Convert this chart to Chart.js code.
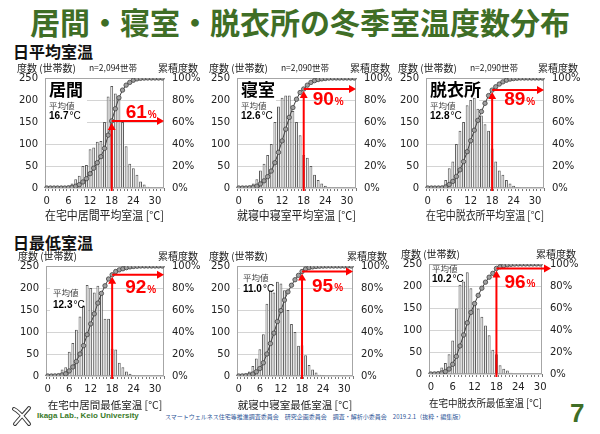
<!DOCTYPE html>
<html lang="ja">
<head>
<meta charset="utf-8">
<script src="https://cdn.jsdelivr.net/npm/chart.js@4.4.1/dist/chart.umd.min.js"></script>
<style>
  html, body { margin: 0; padding: 0; background: #fff; }
  body { width: 600px; height: 434px; position: relative; overflow: hidden; font-family: 'Noto Sans CJK JP', sans-serif; }
  .abs { position: absolute; white-space: nowrap; }
  #title { left: 0; width: 600px; top: 3px; text-align: center; font-size: 30px; font-weight: bold; color: #3f6e26; line-height: 36px; }
  .sec { left: 13px; font-size: 16px; font-weight: bold; color: #111; line-height: 20px; }
  #lab { left: 37px; top: 411px; font: bold 8px 'Liberation Sans', sans-serif; color: #3a7a2a; line-height: 10px; }
  #org { left: 165px; top: 413px; font-size: 6px; color: #2e5597; line-height: 8px; }
  #page { left: 570px; top: 398px; font: bold 26px 'Liberation Sans', sans-serif; color: #3f6e26; line-height: 30px; }
  canvas { position: absolute; }
</style>
</head>
<body>
<div id="title" class="abs">居間・寝室・脱衣所の冬季室温度数分布</div>
<div class="abs sec" style="top:41px">日平均室温</div>
<div class="abs sec" style="top:232px">日最低室温</div>
<svg class="abs" style="left:11px;top:405px" width="22" height="22" viewBox="0 0 22 22">
  <path d="M3 4 C8 6, 14 14, 18 19 M18 3 C14 8, 8 14, 4 19" stroke="#333" stroke-width="4" fill="none" stroke-linecap="round"/>
  <path d="M3 4 C8 6, 14 14, 18 19 M18 3 C14 8, 8 14, 4 19" stroke="#fff" stroke-width="2" fill="none" stroke-linecap="round"/>
</svg>
<div class="abs" id="lab">Ikaga Lab., Keio University</div>
<div class="abs" id="org">スマートウェルネス住宅等推進調査委員会　研究企画委員会　調査・解析小委員会　2019.2.1（抜粋・編集版）</div>
<div class="abs" id="page">7</div>
<script>
// 階級 (°C)
const temps = ['0','1','2','3','4','5','6','7','8','9','10','11','12','13','14','15','16',
               '17','18','19','20','21','22','23','24','25','26','27','28','29','30','31','32'];
const tickTemps = ['0','6','12','18','24','30'];

// 日平均室温
const countLivingAvg = [0,0,0,0,0,0,3,10,20,28,50,52,88,92,105,107,150,208,232,215,205,150,95,55,45,30,15,8,3,1,0,0,0];
const cumLivingAvg   = [0,0,0,0,0,0,0.2,0.7,1.6,3,5.5,8.5,13,18,23,28.5,36,48,61,72,82,89,93.5,96,98,99.2,99.7,99.9,100,100,100,100,100];
const countBedAvg    = [0,0,0,3,10,20,40,55,75,100,150,185,205,210,210,175,150,120,75,69,50,30,18,10,5,2,0,0,0,0,0,0,0];
const cumBedAvg      = [0,0,0,0.2,0.7,1.7,3.7,6.5,10.3,15.4,23,32.4,42.8,53.5,64.2,73.1,80.7,86.8,90,93.5,96,97.6,98.6,99.2,99.6,99.9,100,100,100,100,100,100,100];
const countBathAvg   = [0,0,0,0,2,18,45,60,100,130,150,188,200,205,180,165,145,130,90,60,40,30,18,10,5,2,0,0,0,0,0,0,0];
const cumBathAvg     = [0,0,0,0,0.1,1,3.2,6,10.5,16.5,24,33,43,52.5,61.5,69.5,77,84,89,92,94.5,96.5,98,99,99.5,99.8,100,100,100,100,100,100,100];

// 日最低室温
const countLivingMin = [0,0,1,3,15,20,55,75,105,135,160,207,200,190,205,185,130,130,62,60,30,20,10,5,2,1,0,0,0,0,0,0,0];
const cumLivingMin   = [0,0,0.1,0.3,1,2,4.6,8.2,13.2,20,27.6,37.6,47.4,56.5,66.3,75.1,82,88.2,92,95,96.5,97.5,98.5,99.2,99.6,99.8,100,100,100,100,100,100,100];
const countBedMin    = [0,2,5,10,23,40,61,95,164,195,190,214,210,195,150,118,100,69,70,47,25,15,8,3,2,1,0,0,0,0,0,0,0];
const cumBedMin      = [0,0.1,0.3,0.8,1.8,3.8,6.8,12,20,29.5,39,49.5,59.5,69,76.5,82.5,87.5,91.5,95,97.3,98.5,99.2,99.6,99.8,99.9,100,100,100,100,100,100,100,100];
const countBathMin   = [0,2,5,15,25,45,76,149,203,210,231,195,165,149,130,110,88,55,45,20,12,8,3,1,0,0,0,0,0,0,0];
const cumBathMin     = [0,0.1,0.3,1,2.2,4.5,8.8,16,25.5,35.5,46.5,56,64,71.5,78,83.5,88,91.5,96,97.5,98.5,99.2,99.7,99.9,100,100,100,100,100,100,100];

// 18°C 以下の累積割合, 平均値, 世帯数, ラベル
const pctAt18    = [61, 90, 89, 92, 95, 96];
const meanTemps  = ['16.7', '12.6', '12.8', '12.3', '11.0', '10.2'];
const households = ['n=2,094世帯', 'n=2,090世帯', 'n=2,090世帯', '', '', ''];
const roomNames  = ['居間', '寝室', '脱衣所', '', '', ''];
const xTitles    = ['在宅中居間平均室温 [°C]', '就寝中寝室平均室温 [°C]', '在宅中脱衣所平均室温 [°C]',
                    '在宅中居間最低室温 [°C]', '就寝中寝室最低室温 [°C]', '在宅中脱衣所最低室温 [°C]'];

const counts = [countLivingAvg, countBedAvg, countBathAvg, countLivingMin, countBedMin, countBathMin];
const cums   = [cumLivingAvg, cumBedAvg, cumBathAvg, cumLivingMin, cumBedMin, cumBathMin];

// 各グラフの配置 (plot = 左, 上, 右, 下)
const panels = [
  { plot: [45, 78, 164, 187],  box: [1, 1, 41, 45],  nameY: 11.5, avgY: 27.5, meanY: 38.5, txt: [14, -8], tip: 0, tSize: 12 },
  { plot: [237, 78, 356, 187], box: [1, 1, 38, 45],  nameY: 11.5, avgY: 27.5, meanY: 38.5, txt: [9, 11],  tip: 0, tSize: 12 },
  { plot: [426, 78, 544, 187], box: [1, 1, 52, 45],  nameY: 11.5, avgY: 27.5, meanY: 38.5, txt: [12, 10], tip: 0, tSize: 12 },
  { plot: [46, 266, 164, 375], box: [4, 22, 38, 24], nameY: 0,    avgY: 27,   meanY: 39,   txt: [13, 13], tip: 0, tSize: 10.5 },
  { plot: [237, 266, 353, 375],box: [3, 6, 40, 23],  nameY: 0,    avgY: 12,   meanY: 23,   txt: [10, 15], tip: 0, tSize: 10.5 },
  { plot: [429, 264, 542, 373],box: [0, 0, 35, 21],  nameY: 0,    avgY: 4.5,  meanY: 15,   txt: [8, 14],  tip: 9, tSize: 10.5 }
];

Chart.defaults.font.family = "'DejaVu Sans', 'Noto Sans CJK JP', sans-serif";
Chart.defaults.color = '#222';

function head(ctx, x, y, dir) {
  ctx.beginPath();
  if (dir === 'up') { ctx.moveTo(x, y); ctx.lineTo(x - 4, y + 7); ctx.lineTo(x + 4, y + 7); }
  else { ctx.moveTo(x, y); ctx.lineTo(x - 7, y - 4); ctx.lineTo(x - 7, y + 4); }
  ctx.closePath();
  ctx.fill();
}

const deco = {
  id: 'deco',
  beforeDatasetsDraw(chart, args, o) {
    const { ctx, chartArea: a } = chart;
    ctx.save();
    ctx.fillStyle = '#fff';
    ctx.fillRect(a.left + o.box[0], a.top + o.box[1], o.box[2], o.box[3]);
    ctx.strokeStyle = '#a6a6a6';
    ctx.lineWidth = 1;
    ctx.strokeRect(Math.round(a.left) + 0.5, Math.round(a.top) + 0.5, Math.round(a.width) - 1, Math.round(a.height) - 1);
    ctx.restore();
  },
  afterDatasetsDraw(chart, args, o) {
    const { ctx, chartArea: a, scales } = chart;
    ctx.save();
    ctx.textBaseline = 'middle';
    ctx.fillStyle = '#222';
    ctx.font = "10px 'Noto Sans CJK JP'";
    ctx.textAlign = 'left';
    ctx.fillText('度数 (世帯数)', a.left - 28, a.top - 10);
    ctx.textAlign = 'right';
    ctx.fillText('累積度数', a.right + 34, a.top - 10);
    if (o.n) {
      ctx.textAlign = 'center';
      ctx.font = "8.5px 'Noto Sans CJK JP'";
      ctx.fillText(o.n, a.left + 68, a.top - 10);
    }

    // 部屋名と平均値
    ctx.textAlign = 'left';
    if (o.name) {
      ctx.font = "bold 17px 'Noto Sans CJK JP'";
      ctx.fillStyle = '#000';
      ctx.fillText(o.name, a.left + 4, a.top + o.nameY);
    }
    const lx = a.left + o.box[0] + 3;
    ctx.font = "8.5px 'Noto Sans CJK JP'";
    ctx.fillStyle = '#444';
    ctx.fillText('平均値', lx, a.top + o.avgY);
    ctx.font = "bold 10px 'Liberation Sans'";
    ctx.fillStyle = '#000';
    ctx.fillText(o.mean, lx, a.top + o.meanY);
    const w = ctx.measureText(o.mean).width;
    ctx.font = "10px 'Liberation Sans'";
    ctx.fillText('°C', lx + w + 1, a.top + o.meanY);

    // 18°C の赤矢印
    const x = scales.x.getPixelForValue(18);
    const y = scales.y1.getPixelForValue(o.pct);
    ctx.strokeStyle = '#ff0000';
    ctx.fillStyle = '#ff0000';
    ctx.lineWidth = 2;
    ctx.beginPath();
    ctx.moveTo(x, a.bottom + 3);
    ctx.lineTo(x, y + 8);
    ctx.moveTo(x, y);
    ctx.lineTo(a.right + o.tip - 6, y);
    ctx.stroke();
    head(ctx, x, y + 2, 'up');
    head(ctx, a.right + o.tip, y, 'right');

    ctx.font = "bold 19px 'Liberation Sans'";
    const tx = x + o.txt[0], ty = y + o.txt[1];
    ctx.fillText(String(o.pct), tx, ty);
    const pw = ctx.measureText(String(o.pct)).width;
    ctx.font = "bold 10px 'Liberation Sans'";
    ctx.fillText('%', tx + pw + 1, ty + 2);
    ctx.restore();
  }
};

panels.forEach((p, i) => {
  const [L, T, R, B] = p.plot;
  const W = R - L + 45 + 38, H = B - T + 18 + 36;
  const cv = document.createElement('canvas');
  cv.width = W; cv.height = H;
  cv.style.left = (L - 45) + 'px';
  cv.style.top = (T - 18) + 'px';
  cv.style.width = W + 'px';
  cv.style.height = H + 'px';
  document.body.appendChild(cv);

  const labels = temps.slice(0, counts[i].length);
  new Chart(cv.getContext('2d'), {
    data: {
      labels: labels,
      datasets: [
        {
          type: 'line',
          data: cums[i],
          yAxisID: 'y1',
          order: 0,
          borderColor: '#404040',
          borderWidth: 1,
          pointRadius: 2.2,
          pointBackgroundColor: '#a0a0a0',
          pointBorderColor: '#404040',
          pointBorderWidth: 0.8,
          tension: 0
        },
        {
          type: 'bar',
          data: counts[i],
          yAxisID: 'y',
          order: 1,
          backgroundColor: '#e6e6e6',
          borderColor: '#5a5a5a',
          borderWidth: 1,
          barPercentage: 0.8,
          categoryPercentage: 1
        }
      ]
    },
    options: {
      responsive: false,
      animation: false,
      layout: { padding: { top: 18, left: 0, right: 0, bottom: 0 } },
      plugins: {
        legend: { display: false },
        tooltip: { enabled: false },
        deco: {
          box: p.box, nameY: p.nameY, avgY: p.avgY, meanY: p.meanY, txt: p.txt, tip: p.tip,
          pct: pctAt18[i], mean: meanTemps[i], n: households[i], name: roomNames[i]
        }
      },
      scales: {
        x: {
          type: 'category',
          offset: true,
          grid: { display: true, drawOnChartArea: false, tickLength: 3, color: '#777' },
          border: { display: false },
          ticks: {
            autoSkip: false, maxRotation: 0, padding: 4, color: '#222',
            font: { size: 10 },
            callback: (v, idx) => tickTemps.includes(labels[idx]) ? labels[idx] : ''
          },
          title: {
            display: true, text: xTitles[i], color: '#222', padding: 0,
            font: { size: p.tSize, family: "'Noto Sans CJK JP', sans-serif" }
          },
          afterFit: s => { s.height = 35; }
        },
        y: {
          position: 'left', min: 0, max: 250,
          grid: { color: '#d4d4d4', drawTicks: false },
          border: { display: false },
          ticks: { stepSize: 50, padding: 7, font: { size: 10 }, color: '#222' },
          afterFit: s => { s.width = 45; }
        },
        y1: {
          position: 'right', min: 0, max: 100,
          grid: { drawOnChartArea: false, drawTicks: false },
          border: { display: false },
          ticks: { stepSize: 20, padding: 8, font: { size: 10 }, color: '#222', callback: v => v + '%' },
          afterFit: s => { s.width = 38; }
        }
      }
    },
    plugins: [deco]
  });
});
</script>
</body>
</html>
